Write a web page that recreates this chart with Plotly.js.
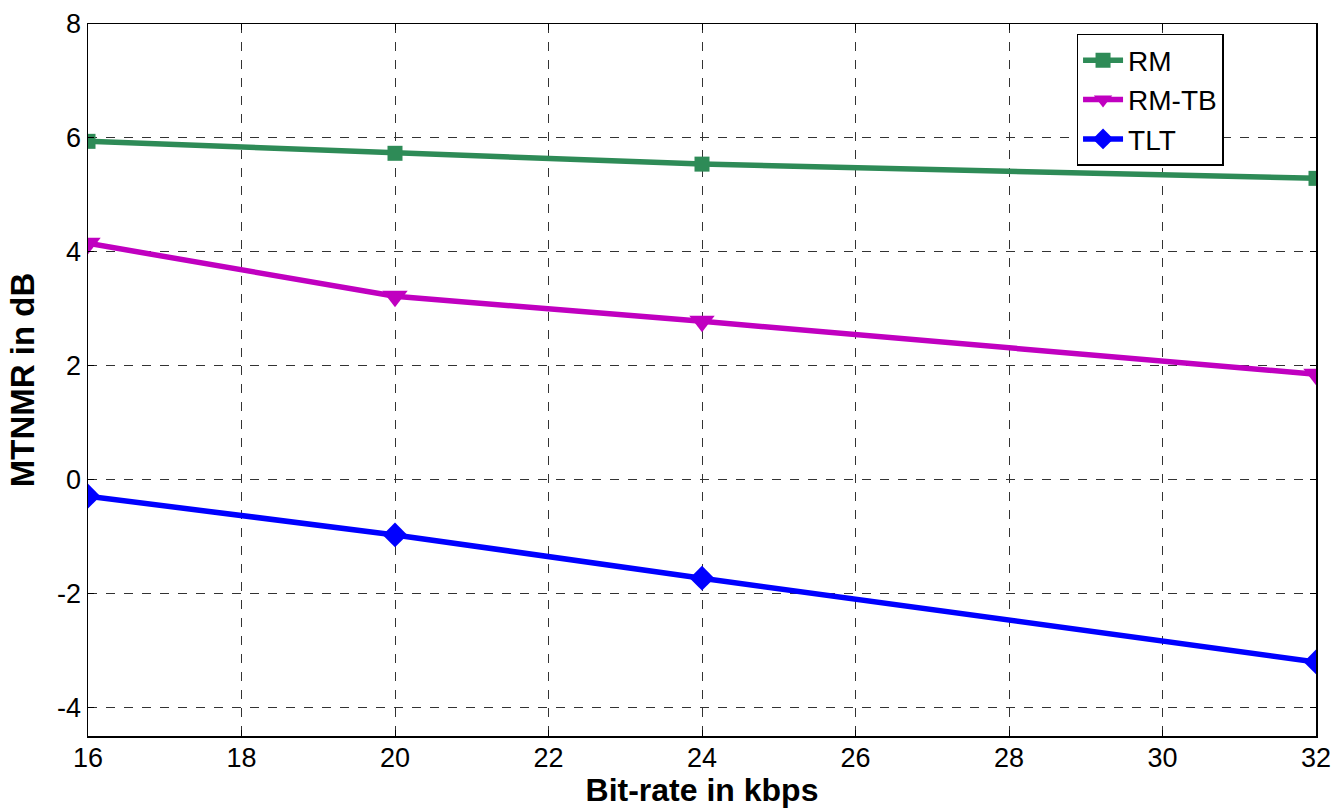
<!DOCTYPE html>
<html><head><meta charset="utf-8">
<script src="https://cdn.plot.ly/plotly-3.0.1.min.js"></script>
<style>body{margin:0;background:#fff}#c{width:1336px;height:808px}</style>
</head><body><div id="c"></div>
<script>
var bitrates = [16, 20, 24, 32];
var rm = [5.94, 5.73, 5.54, 5.29];
var rmtb = [4.15, 3.22, 2.78, 1.85];
var tlt = [-0.29, -0.97, -1.73, -3.2];
var xticks = [16, 18, 20, 22, 24, 26, 28, 30, 32];
var yticks = [-4, -2, 0, 2, 4, 6, 8];

var traces = [
  {x: bitrates, y: rm, name: 'RM', mode: 'lines+markers', line: {color: '#2e8b57', width: 5.5}, marker: {symbol: 'square', size: 15, color: '#2e8b57'}},
  {x: bitrates, y: rmtb, name: 'RM-TB', mode: 'lines+markers', line: {color: '#c000c0', width: 5.5}, marker: {symbol: 'triangle-down', size: 22, color: '#c000c0'}},
  {x: bitrates, y: tlt, name: 'TLT', mode: 'lines+markers', line: {color: '#0000ff', width: 5.5}, marker: {symbol: 'diamond', size: 19, color: '#0000ff'}}
];
var F = 'Liberation Sans, Arial, sans-serif';
var axisCommon = {showline: true, mirror: 'ticks', linecolor: '#000', linewidth: 1.5, ticks: 'inside', ticklen: 6, tickcolor: '#000',
  showgrid: true, gridcolor: '#333', griddash: 'dash', gridwidth: 1, zeroline: false,
  tickfont: {family: F, size: 27, color: '#000'}};
var layout = {
  width: 1336, height: 808, paper_bgcolor: '#fff', plot_bgcolor: '#fff',
  margin: {l: 87.5, r: 20, t: 23.5, b: 72},
  showlegend: true,
  legend: {x: 0.805, y: 0.986, xanchor: 'left', yanchor: 'top', bordercolor: '#000', borderwidth: 1.5, bgcolor: '#fff',
    font: {family: F, size: 28, color: '#000'}, itemwidth: 40, tracegroupgap: 0},
  xaxis: Object.assign({}, axisCommon, {range: [16, 32], tickvals: xticks, ticktext: xticks.map(String), ticklabelstandoff: -3,
    title: {text: 'Bit-rate in kbps', standoff: 12, font: {family: F, size: 32, color: '#000', weight: 'bold'}}}),
  yaxis: Object.assign({}, axisCommon, {range: [-4.5, 8], tickvals: yticks, ticktext: yticks.map(String),
    title: {text: 'MTNMR in dB', standoff: 12, font: {family: F, size: 33, color: '#000', weight: 'bold'}}})
};
Plotly.newPlot('c', traces, layout, {displayModeBar: false, staticPlot: true});
</script></body></html>
